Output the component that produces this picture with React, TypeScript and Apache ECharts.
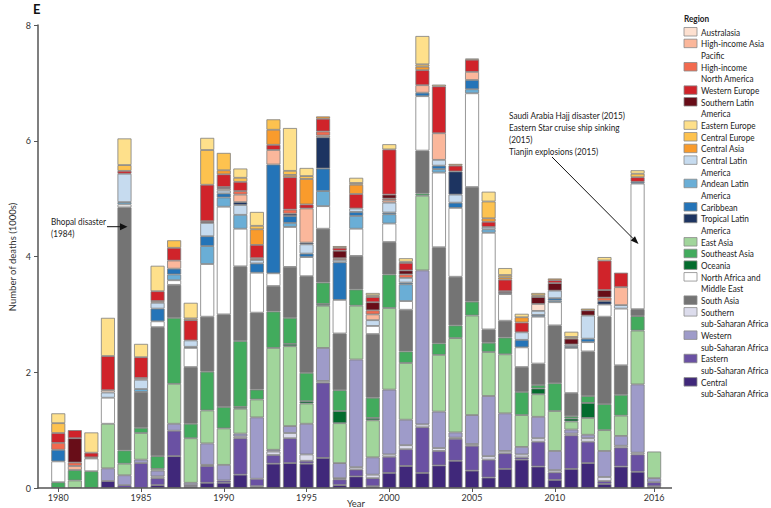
import React, { useEffect, useRef } from "react";
import * as echarts from "echarts";

const years = [
  "1980", "1981", "1982", "1983", "1984", "1985", "1986", "1987", "1988", "1989",
  "1990", "1991", "1992", "1993", "1994", "1995", "1996", "1997", "1998", "1999",
  "2000", "2001", "2002", "2003", "2004", "2005", "2006", "2007", "2008", "2009",
  "2010", "2011", "2012", "2013", "2014", "2015", "2016",
];
const labelYears = ["1980", "1985", "1990", "1995", "2000", "2005", "2010", "2016"];
const yTicks = { min: 0, max: 8, interval: 2 };

// Deaths (1000s) by region, 1980..2016
const centralSSA = [0, 0, 0, 0.12, 0, 0, 0.05, 0.55, 0.02, 0.09, 0.09, 0.23, 0.03, 0.42, 0.43, 0.42, 0.52, 0.05, 0.2, 0.03, 0.26, 0.38, 0.26, 0.39, 0.47, 0.3, 0.18, 0.33, 0.49, 0.37, 0.14, 0.33, 0.43, 0.07, 0.37, 0.28, 0.03];
const easternSSA = [0, 0, 0, 0, 0.05, 0.43, 0.12, 0.44, 0.03, 0.29, 0.04, 0.63, 0.13, 0.15, 0.43, 0.05, 1.3, 0.1, 0.12, 0.14, 0.28, 0.29, 0.79, 0.25, 0.38, 0.43, 0.31, 0.27, 0.04, 0.43, 0.13, 0.58, 0.37, 0.05, 0.33, 0.3, 0.07];
const southernSSA = [0, 0, 0, 0, 0, 0, 0.03, 0, 0, 0.02, 0, 0.03, 0, 0.06, 0.09, 0.11, 0.03, 0.02, 0.04, 0.06, 0.04, 0.07, 0.05, 0.05, 0.02, 0.03, 0.06, 0.04, 0.05, 0.06, 0.04, 0.03, 0.06, 0.07, 0.03, 0.03, 0];
const westernSSA = [0, 0, 0, 0.22, 0.17, 0.06, 0.1, 0.12, 0.04, 0.37, 0.27, 0.05, 1.06, 0.03, 0.12, 0.53, 0.57, 0.26, 1.86, 0.3, 1.12, 0.44, 2.66, 0.63, 0.09, 0.5, 1.04, 0.65, 0.13, 0.37, 0.33, 0.07, 0.06, 0.45, 0.17, 1.18, 0.07];
const eastAsia = [0, 0.13, 0, 0.77, 0.2, 0.46, 0.03, 0.69, 0.77, 0.57, 0.63, 0.43, 0.31, 1.76, 1.38, 0.35, 0.73, 0.69, 0.93, 0.64, 1.41, 0.98, 1.29, 0.98, 1.63, 1.72, 0.76, 1.02, 0.55, 0.39, 0.69, 0.14, 0.29, 0.36, 0.35, 0.93, 0.46];
const oceania = [0, 0, 0, 0, 0, 0, 0, 0, 0, 0, 0, 0.03, 0, 0, 0.04, 0.04, 0.03, 0.21, 0, 0.04, 0, 0, 0, 0, 0, 0, 0, 0, 0, 0.1, 0, 0.05, 0.26, 0, 0, 0, 0];
const southeastAsia = [0.1, 0.18, 0.29, 0, 0.23, 0.09, 0.22, 1.14, 0.25, 0.67, 0.37, 1.14, 0.17, 0.63, 0.45, 0.49, 0.37, 0.36, 0.28, 0.35, 0.58, 0.2, 0.04, 0.2, 0.22, 0.24, 0.16, 0.29, 0.4, 0.06, 0.48, 0.04, 0.12, 0.45, 0.36, 0.25, 0];
const southAsia = [0, 0, 0, 0, 4.2, 0.62, 2.23, 0.57, 0.98, 0.95, 1.6, 1.29, 1.33, 0.44, 0.88, 1.67, 0.93, 0.98, 0.58, 1.1, 0.56, 0.72, 0.74, 1.66, 0.84, 1.98, 0.23, 0.29, 0.43, 0.37, 1.0, 0.4, 0.77, 1.51, 0.51, 0.12, 0];
const northAfricaME = [0.36, 0, 0.22, 0.45, 0.05, 0, 0.1, 0.08, 0.33, 0.91, 1.86, 0.65, 0.69, 0.22, 0.69, 0.33, 0.39, 0.58, 0.47, 0.14, 0.32, 0.15, 0.94, 1.29, 1.19, 1.62, 1.67, 0.46, 0.34, 0.81, 0.4, 0.78, 0.16, 0.21, 0.98, 2.17, 0];
const andeanLA = [0, 0, 0, 0, 0.04, 0.05, 0, 0.1, 0.02, 0.31, 0.16, 0.24, 0, 0, 0.07, 0, 0.26, 0, 0.22, 0, 0.16, 0.29, 0, 0.06, 0, 0.07, 0.06, 0, 0, 0, 0.03, 0, 0, 0, 0, 0, 0];
const caribbean = [0.2, 0, 0, 0, 0, 0, 0.22, 0.1, 0, 0.17, 0.07, 0, 0.16, 1.88, 0.12, 0.06, 0.39, 0.65, 0.07, 0, 0.03, 0.03, 0.06, 0.06, 0.09, 0.16, 0, 0.02, 0.13, 0.03, 0.04, 0.03, 0.06, 0, 0, 0.03, 0];
const centralLA = [0, 0, 0, 0.09, 0.49, 0.16, 0.1, 0, 0.11, 0.23, 0.05, 0.17, 0.06, 0, 0, 0.16, 0, 0.04, 0.06, 0.1, 0.17, 0.08, 0, 0.1, 0.14, 0, 0.04, 0, 0.13, 0.07, 0.13, 0.03, 0.4, 0, 0.06, 0, 0];
const tropicalLA = [0, 0, 0, 0, 0, 0, 0, 0, 0, 0, 0, 0.05, 0, 0, 0.04, 0.03, 0.54, 0, 0, 0, 0, 0, 0, 0, 0.4, 0, 0, 0, 0, 0, 0, 0, 0, 0.06, 0, 0, 0];
const australasia = [0, 0, 0, 0.04, 0, 0, 0, 0, 0, 0, 0.03, 0, 0, 0, 0, 0, 0, 0, 0, 0, 0, 0, 0, 0, 0, 0, 0, 0, 0, 0.12, 0, 0, 0, 0, 0, 0, 0];
const hiAsiaPacific = [0, 0.07, 0, 0, 0, 0.03, 0.03, 0.14, 0, 0, 0, 0.13, 0, 0.25, 0, 0.59, 0.03, 0, 0, 0.1, 0.04, 0, 0.13, 0.46, 0, 0.14, 0, 0, 0, 0, 0, 0, 0, 0, 0.31, 0, 0];
const hiNorthAmerica = [0.12, 0.06, 0.02, 0, 0, 0, 0, 0, 0, 0, 0, 0.06, 0.03, 0, 0.07, 0, 0.07, 0.03, 0, 0.07, 0.03, 0.06, 0, 0, 0, 0, 0, 0, 0, 0, 0, 0, 0, 0.06, 0, 0, 0];
const southernLA = [0, 0.42, 0, 0, 0, 0, 0, 0, 0, 0.03, 0.03, 0, 0, 0, 0, 0, 0, 0.13, 0, 0.14, 0.07, 0.07, 0, 0, 0, 0, 0, 0.03, 0, 0.12, 0.13, 0.1, 0.09, 0.13, 0, 0, 0];
const westernEurope = [0.17, 0.14, 0.08, 0.59, 0.05, 0.36, 0.17, 0.22, 0.35, 0.63, 0.22, 0.16, 0.23, 0.09, 0.56, 0.07, 0.22, 0.05, 0.25, 0.09, 0.78, 0.13, 0.26, 0.81, 0.1, 0.21, 0.09, 0.2, 0.17, 0, 0.05, 0, 0, 0.51, 0.25, 0.08, 0];
const centralAsia = [0, 0, 0, 0, 0, 0, 0, 0, 0, 0, 0.07, 0, 0.27, 0.26, 0.04, 0.44, 0.04, 0.03, 0.16, 0, 0, 0, 0.06, 0, 0.03, 0.02, 0.06, 0.04, 0.09, 0.03, 0.03, 0, 0, 0, 0, 0, 0];
const centralEurope = [0.17, 0, 0, 0, 0.1, 0, 0, 0.13, 0.03, 0.6, 0.3, 0.07, 0.06, 0.18, 0.07, 0.05, 0, 0, 0.03, 0.03, 0, 0.02, 0.04, 0, 0, 0, 0.29, 0.04, 0, 0.04, 0, 0.03, 0.03, 0, 0, 0.06, 0];
const easternEurope = [0.17, 0, 0.35, 0.66, 0.46, 0.23, 0.44, 0, 0.27, 0.21, 0, 0.16, 0.24, 0, 0.74, 0.14, 0, 0, 0.09, 0.04, 0.09, 0.06, 0.49, 0.03, 0, 0, 0.17, 0.12, 0.06, 0, 0, 0.09, 0, 0.06, 0, 0.06, 0];

// stacking order, bottom to top
const stackSeries = [
  { name: "Central sub-Saharan Africa", color: "#40287a", data: centralSSA },
  { name: "Eastern sub-Saharan Africa", color: "#6a51a3", data: easternSSA },
  { name: "Southern sub-Saharan Africa", color: "#dcdcec", data: southernSSA },
  { name: "Western sub-Saharan Africa", color: "#9e9bc9", data: westernSSA },
  { name: "East Asia", color: "#a1d59b", data: eastAsia },
  { name: "Oceania", color: "#046c2e", data: oceania },
  { name: "Southeast Asia", color: "#42ab5d", data: southeastAsia },
  { name: "South Asia", color: "#747474", data: southAsia },
  { name: "North Africa and Middle East", color: "#ffffff", data: northAfricaME },
  { name: "Andean Latin America", color: "#6aaed6", data: andeanLA },
  { name: "Caribbean", color: "#2474b8", data: caribbean },
  { name: "Central Latin America", color: "#c6dbef", data: centralLA },
  { name: "Tropical Latin America", color: "#1d3461", data: tropicalLA },
  { name: "Australasia", color: "#fde0d0", data: australasia },
  { name: "High-income Asia Pacific", color: "#fbb79b", data: hiAsiaPacific },
  { name: "High-income North America", color: "#f26a4f", data: hiNorthAmerica },
  { name: "Southern Latin America", color: "#680d18", data: southernLA },
  { name: "Western Europe", color: "#d0232a", data: westernEurope },
  { name: "Central Asia", color: "#f99b2c", data: centralAsia },
  { name: "Central Europe", color: "#fdc24f", data: centralEurope },
  { name: "Eastern Europe", color: "#fee08b", data: easternEurope },
];

const legendItems = [
  { lines: ["Australasia"], key: "Australasia" },
  { lines: ["High-income Asia", "Pacific"], key: "High-income Asia Pacific" },
  { lines: ["High-income", "North America"], key: "High-income North America" },
  { lines: ["Western Europe"], key: "Western Europe" },
  { lines: ["Southern Latin", "America"], key: "Southern Latin America" },
  { lines: ["Eastern Europe"], key: "Eastern Europe" },
  { lines: ["Central Europe"], key: "Central Europe" },
  { lines: ["Central Asia"], key: "Central Asia" },
  { lines: ["Central Latin", "America"], key: "Central Latin America" },
  { lines: ["Andean Latin", "America"], key: "Andean Latin America" },
  { lines: ["Caribbean"], key: "Caribbean" },
  { lines: ["Tropical Latin", "America"], key: "Tropical Latin America" },
  { lines: ["East Asia"], key: "East Asia" },
  { lines: ["Southeast Asia"], key: "Southeast Asia" },
  { lines: ["Oceania"], key: "Oceania" },
  { lines: ["North Africa and", "Middle East"], key: "North Africa and Middle East" },
  { lines: ["South Asia"], key: "South Asia" },
  { lines: ["Southern", "sub-Saharan Africa"], key: "Southern sub-Saharan Africa" },
  { lines: ["Western", "sub-Saharan Africa"], key: "Western sub-Saharan Africa" },
  { lines: ["Eastern", "sub-Saharan Africa"], key: "Eastern sub-Saharan Africa" },
  { lines: ["Central", "sub-Saharan Africa"], key: "Central sub-Saharan Africa" },
];

const FONT = "Lato, 'Open Sans', sans-serif";
const NARROW = 0.82;

function txt(text: string, x: number, y: number, o: any = {}) {
  const align = o.align || "left";
  const va = o.va || "middle";
  return {
    type: "text",
    x,
    y,
    rotation: o.rotation || 0,
    scaleX: o.scaleX || NARROW,
    silent: true,
    style: {
      text,
      fill: o.fill || "#222",
      fontSize: o.size || 10,
      fontFamily: FONT,
      fontWeight: o.weight || "normal",
      align,
      verticalAlign: va,
      textAlign: align,
      textVerticalAlign: va,
    },
  };
}

export default function App() {
  const ref = useRef<HTMLDivElement>(null);
  useEffect(() => {
    if (!ref.current) return;
    const chart = echarts.init(ref.current, null, { renderer: "svg" });

    const graphics: any[] = [];
    graphics.push(txt("E", 33, 8.5, { size: 13, weight: "bold", fill: "#111", scaleX: 1 }));
    graphics.push(txt("Number of deaths (1000s)", 12, 257, { align: "center", rotation: Math.PI / 2, fill: "#333", scaleX: 0.95 }));
    graphics.push(txt("Year", 356, 503, { align: "center", fill: "#333", scaleX: 0.95 }));
    graphics.push({
      type: "line",
      silent: true,
      z: 10,
      shape: { x1: 37.5, y1: 488, x2: 672, y2: 488 },
      style: { stroke: "#555", lineWidth: 1.5 },
    });

    // Legend
    const lx = 684;
    const l0 = 31.7;
    const lh = 11.67;
    graphics.push(txt("Region", lx, l0 - lh - 1.5, { weight: "bold", fill: "#222" }));
    let line = 0;
    legendItems.forEach((it) => {
      const s = stackSeries.find((d) => d.name === it.key)!;
      const cy = l0 + lh * line;
      graphics.push({
        type: "rect",
        silent: true,
        shape: { x: lx, y: cy - 4.2, width: 13, height: 8.5 },
        style: { fill: s.color, stroke: "#8a8a8a", lineWidth: 0.8 },
      });
      it.lines.forEach((t, k) => {
        graphics.push(txt(t, lx + 17, cy + lh * k, { fill: "#222" }));
      });
      line += it.lines.length;
    });

    // Annotations
    graphics.push(txt("Bhopal disaster", 51, 221, { fill: "#222" }));
    graphics.push(txt("(1984)", 51, 233.5, { fill: "#222" }));
    graphics.push({
      type: "line", silent: true, z: 20,
      shape: { x1: 107, y1: 226.7, x2: 121, y2: 226.7 },
      style: { stroke: "#111", lineWidth: 1 },
    });
    graphics.push({
      type: "polygon", silent: true, z: 20,
      shape: { points: [[127.5, 226.7], [120, 223.2], [120, 230.2]] },
      style: { fill: "#111" },
    });

    graphics.push(txt("Saudi Arabia Hajj disaster (2015)", 509, 115, { fill: "#222" }));
    graphics.push(txt("Eastern Star cruise ship sinking", 509, 127, { fill: "#222" }));
    graphics.push(txt("(2015)", 509, 139, { fill: "#222" }));
    graphics.push(txt("Tianjin explosions (2015)", 509, 151, { fill: "#222" }));
    graphics.push({
      type: "line", silent: true, z: 20,
      shape: { x1: 552, y1: 157, x2: 633, y2: 238.5 },
      style: { stroke: "#111", lineWidth: 1 },
    });
    graphics.push({
      type: "polygon", silent: true, z: 20,
      shape: { points: [[638.5, 244], [630.7, 240.5], [635, 236.2]] },
      style: { fill: "#111" },
    });

    const showIdx = (i: number) => labelYears.indexOf(years[i]) >= 0;

    chart.setOption({
      animation: false,
      backgroundColor: "#ffffff",
      textStyle: { fontFamily: FONT },
      grid: { left: 50, right: 108.6, top: 25, bottom: 20, containLabel: false },
      xAxis: {
        type: "category",
        data: years,
        axisLine: { show: false },
        axisTick: {
          show: true,
          alignWithLabel: true,
          interval: (i: number) => showIdx(i),
          length: 4,
          lineStyle: { color: "#555", width: 1 },
        },
        axisLabel: {
          interval: (i: number) => showIdx(i),
          color: "#333",
          fontSize: 9,
          fontFamily: FONT,
          margin: 5,
        },
      },
      yAxis: {
        type: "value",
        min: yTicks.min,
        max: yTicks.max,
        interval: yTicks.interval,
        offset: 12,
        axisLine: { show: true, lineStyle: { color: "#555", width: 1.5 } },
        axisTick: { show: true, length: 4, lineStyle: { color: "#555" } },
        axisLabel: { color: "#333", fontSize: 9, fontFamily: FONT, margin: 7 },
        splitLine: { show: false },
      },
      series: stackSeries.map((s) => ({
        name: s.name,
        type: "bar",
        stack: "total",
        barWidth: 14,
        silent: true,
        itemStyle: { color: s.color, borderColor: "#7d7d7d", borderWidth: 0.8 },
        emphasis: { disabled: true },
        data: s.data.map((v) => (v === 0 ? "-" : v)),
      })),
      graphic: graphics,
    });

    return () => chart.dispose();
  }, []);

  return (
    <div
      ref={ref}
      style={{ position: "absolute", left: 0, top: 0, width: 771, height: 508, background: "#fff" }}
    />
  );
}
